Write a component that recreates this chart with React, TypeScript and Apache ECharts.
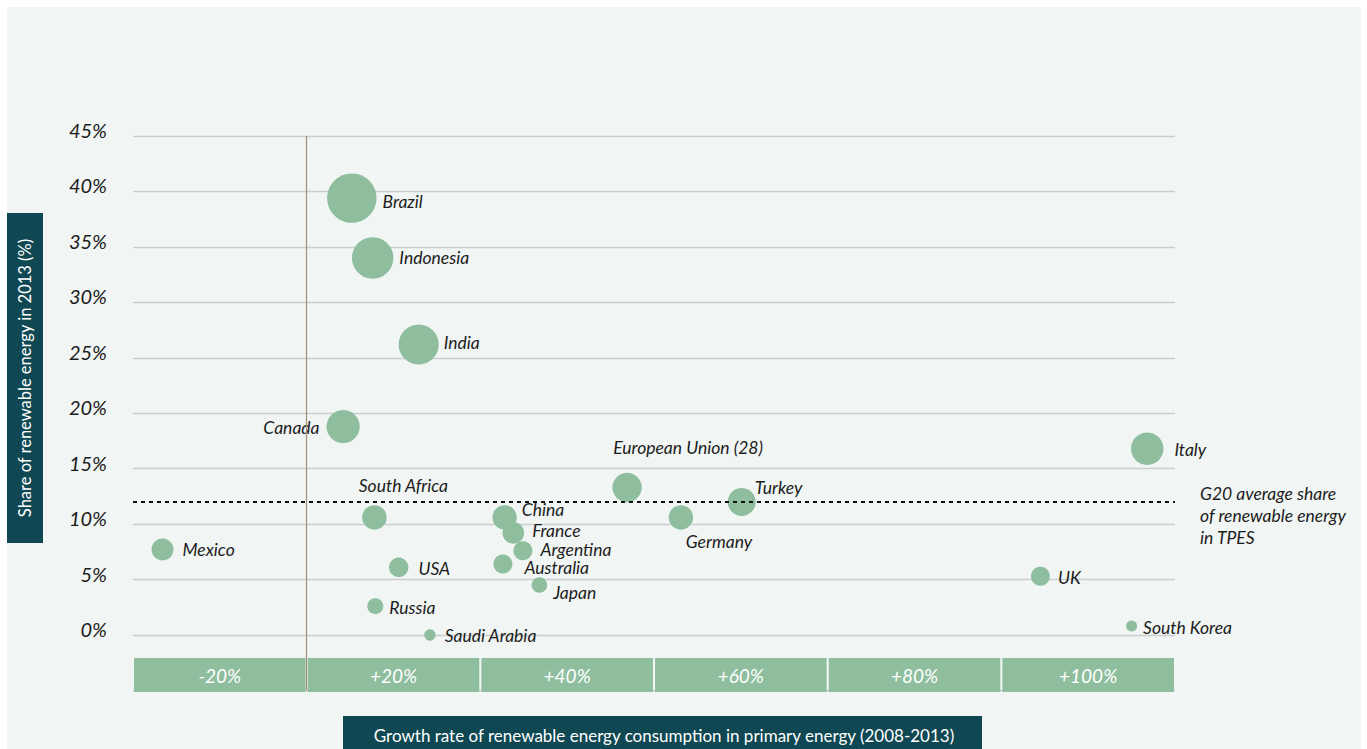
import React, { useEffect, useRef } from "react";
import * as echarts from "echarts";

// ---------- data ----------
const countries = [
  "Brazil", "Indonesia", "India", "Canada", "South Africa", "Mexico", "USA", "Russia",
  "Saudi Arabia", "China", "France", "Argentina", "Australia", "Japan",
  "European Union (28)", "Germany", "Turkey", "Italy", "UK", "South Korea",
];
// growth rate of renewable energy consumption (2008-2013), %
const growthRate = [
  5.2, 7.6, 12.9, 4.2, 7.8, -16.6, 10.6, 7.9,
  14.2, 22.8, 23.8, 24.9, 22.6, 26.8,
  36.9, 43.1, 50.1, 96.8, 84.5, 95.0,
];
// share of renewable energy in 2013, %
const renewableShare = [
  39.4, 34.0, 26.2, 18.8, 10.6, 7.7, 6.1, 2.6,
  0.0, 10.6, 9.2, 7.6, 6.4, 4.5,
  13.3, 10.6, 12.0, 16.8, 5.3, 0.8,
];
// relative bubble magnitude
const bubbleMagnitude = [
  24.7, 20.7, 20, 16.6, 12.3, 11, 9.7, 8,
  5.7, 12.2, 10.8, 9.5, 9.5, 7.8,
  14.7, 12.2, 14, 16.2, 9.5, 5.5,
];
const g20AverageShare = 12;
const zeroGrowth = 0;
const bandLabels = ["-20%", "+20%", "+40%", "+60%", "+80%", "+100%"];
const bandValues = [1, 1, 1, 1, 1, 1];
const yAxisTitle = "Share of renewable energy in 2013 (%)";
const xAxisTitle = "Growth rate of renewable energy consumption in primary energy (2008-2013)";
const g20Note = "G20 average share\nof renewable energy\nin TPES";

// ---------- label layout (style, not data) ----------
const labelLayout: Record<string, { position: string; distance: number; offset: number[] }> = {
  Brazil: { position: "right", distance: 6, offset: [0, 3] },
  Indonesia: { position: "right", distance: 6, offset: [0, 0] },
  India: { position: "right", distance: 5, offset: [0, -2] },
  Canada: { position: "left", distance: 7, offset: [0, 1] },
  "South Africa": { position: "top", distance: 12, offset: [29, 0] },
  Mexico: { position: "right", distance: 9, offset: [0, 0] },
  USA: { position: "right", distance: 10, offset: [0, 1] },
  Russia: { position: "right", distance: 6, offset: [0, 1] },
  "Saudi Arabia": { position: "right", distance: 9, offset: [0, 1] },
  China: { position: "right", distance: 5, offset: [0, -8] },
  France: { position: "right", distance: 8, offset: [0, -2] },
  Argentina: { position: "right", distance: 8, offset: [0, -1] },
  Australia: { position: "right", distance: 12, offset: [0, 4] },
  Japan: { position: "right", distance: 6, offset: [0, 7] },
  "European Union (28)": { position: "top", distance: 17, offset: [61, 0] },
  Germany: { position: "bottom", distance: 4, offset: [38, 0] },
  Turkey: { position: "right", distance: 0, offset: [-1, -14] },
  Italy: { position: "right", distance: 11, offset: [0, 1] },
  UK: { position: "right", distance: 8, offset: [0, 1] },
  "South Korea": { position: "right", distance: 6, offset: [0, 1] },
};

const FONT = 'Lato, "Noto Sans", sans-serif';
const GREEN = "#8ebe9e";
const TEAL = "#0f4853";
const TEXT = "#1c1c1c";

export default function App() {
  const ref = useRef<HTMLDivElement>(null);

  useEffect(() => {
    if (!ref.current) return;
    const chart = echarts.init(ref.current, undefined, { renderer: "svg" });

    const scatterData = countries.map((name, i) => {
      const l = labelLayout[name];
      return {
        name,
        value: [growthRate[i], renewableShare[i], bubbleMagnitude[i]],
        label: { position: l.position, distance: l.distance, offset: l.offset },
      };
    });

    const option: any = {
      animation: false,
      backgroundColor: "#ffffff",
      textStyle: { fontFamily: FONT },
      grid: [
        { left: 133, right: 192, top: 136, bottom: 58.6 },
        { left: 133, right: 192, top: 658, bottom: 57 },
      ],
      xAxis: [
        {
          gridIndex: 0,
          type: "value",
          min: -20,
          max: 100,
          interval: 20,
          axisLine: { show: false },
          axisTick: { show: false },
          axisLabel: { show: false },
          splitLine: { show: false },
        },
        {
          gridIndex: 1,
          type: "category",
          data: bandLabels,
          axisLine: { show: false },
          axisTick: { show: false },
          axisLabel: { show: false },
          splitLine: { show: false },
        },
      ],
      yAxis: [
        {
          gridIndex: 0,
          type: "value",
          min: -5,
          max: 45,
          interval: 5,
          axisLine: { show: false },
          axisTick: { show: false },
          axisLabel: {
            formatter: (v: number) => (v < 0 ? "" : v + "%"),
            fontFamily: FONT,
            fontStyle: "italic",
            fontSize: 20,
            color: TEXT,
            margin: 26,
            verticalAlign: "bottom",
            lineHeight: 12,
          },
          splitLine: { show: true, lineStyle: { color: "#cacfce", width: 1.3 } },
        },
        {
          gridIndex: 1,
          type: "value",
          min: 0,
          max: 1,
          show: false,
        },
      ],
      series: [
        {
          type: "scatter",
          xAxisIndex: 0,
          yAxisIndex: 0,
          data: scatterData,
          symbol: "circle",
          symbolSize: (val: number[]) => val[2] * 2,
          itemStyle: { color: GREEN, opacity: 1 },
          label: {
            show: true,
            formatter: "{b}",
            fontFamily: FONT,
            fontStyle: "italic",
            fontSize: 17.5,
            lineHeight: 16,
            color: TEXT,
          },
          emphasis: { disabled: true },
          markLine: {
            silent: true,
            symbol: "none",
            label: { show: false },
            data: [
              { yAxis: g20AverageShare, lineStyle: { type: [4, 4], color: "#111111", width: 2 } },
              { xAxis: zeroGrowth, lineStyle: { type: "solid", color: "#a39177", width: 1.2 } },
            ],
          },
          z: 3,
        },
        {
          type: "bar",
          xAxisIndex: 1,
          yAxisIndex: 1,
          data: bandValues,
          barCategoryGap: "1.2%",
          itemStyle: { color: GREEN },
          label: {
            show: true,
            position: "inside",
            formatter: "{b}",
            color: "#ffffff",
            fontFamily: FONT,
            fontStyle: "italic",
            fontSize: 19,
          },
          emphasis: { disabled: true },
          silent: true,
          z: 6,
        },
      ],
      graphic: {
        elements: [
          {
            type: "rect",
            z: -100,
            silent: true,
            shape: { x: 7, y: 7, width: 1354, height: 742 },
            style: { fill: "#f1f5f4" },
          },
          {
            type: "rect",
            z: 10,
            silent: true,
            shape: { x: 7, y: 213, width: 36, height: 330 },
            style: { fill: TEAL },
          },
          {
            type: "text",
            z: 11,
            silent: true,
            x: 25,
            y: 378,
            rotation: Math.PI / 2,
            style: {
              text: yAxisTitle,
              fill: "#ffffff",
              font: `16.5px ${FONT}`,
              align: "center",
              verticalAlign: "middle",
            },
          },
          {
            type: "rect",
            z: 10,
            silent: true,
            shape: { x: 343, y: 716, width: 639, height: 40 },
            style: { fill: TEAL },
          },
          {
            type: "text",
            z: 11,
            silent: true,
            x: 664,
            y: 735,
            style: {
              text: xAxisTitle,
              fill: "#ffffff",
              font: `17px ${FONT}`,
              align: "center",
              verticalAlign: "middle",
            },
          },
          {
            type: "text",
            z: 11,
            silent: true,
            x: 1200,
            y: 482,
            style: {
              text: g20Note,
              fill: TEXT,
              font: `italic 17.5px ${FONT}`,
              lineHeight: 22,
              align: "left",
              verticalAlign: "top",
            },
          },
        ],
      },
    };

    chart.setOption(option);
    return () => chart.dispose();
  }, []);

  return (
    <div
      ref={ref}
      style={{ position: "absolute", left: 0, top: 0, width: 1367, height: 749 }}
    />
  );
}
